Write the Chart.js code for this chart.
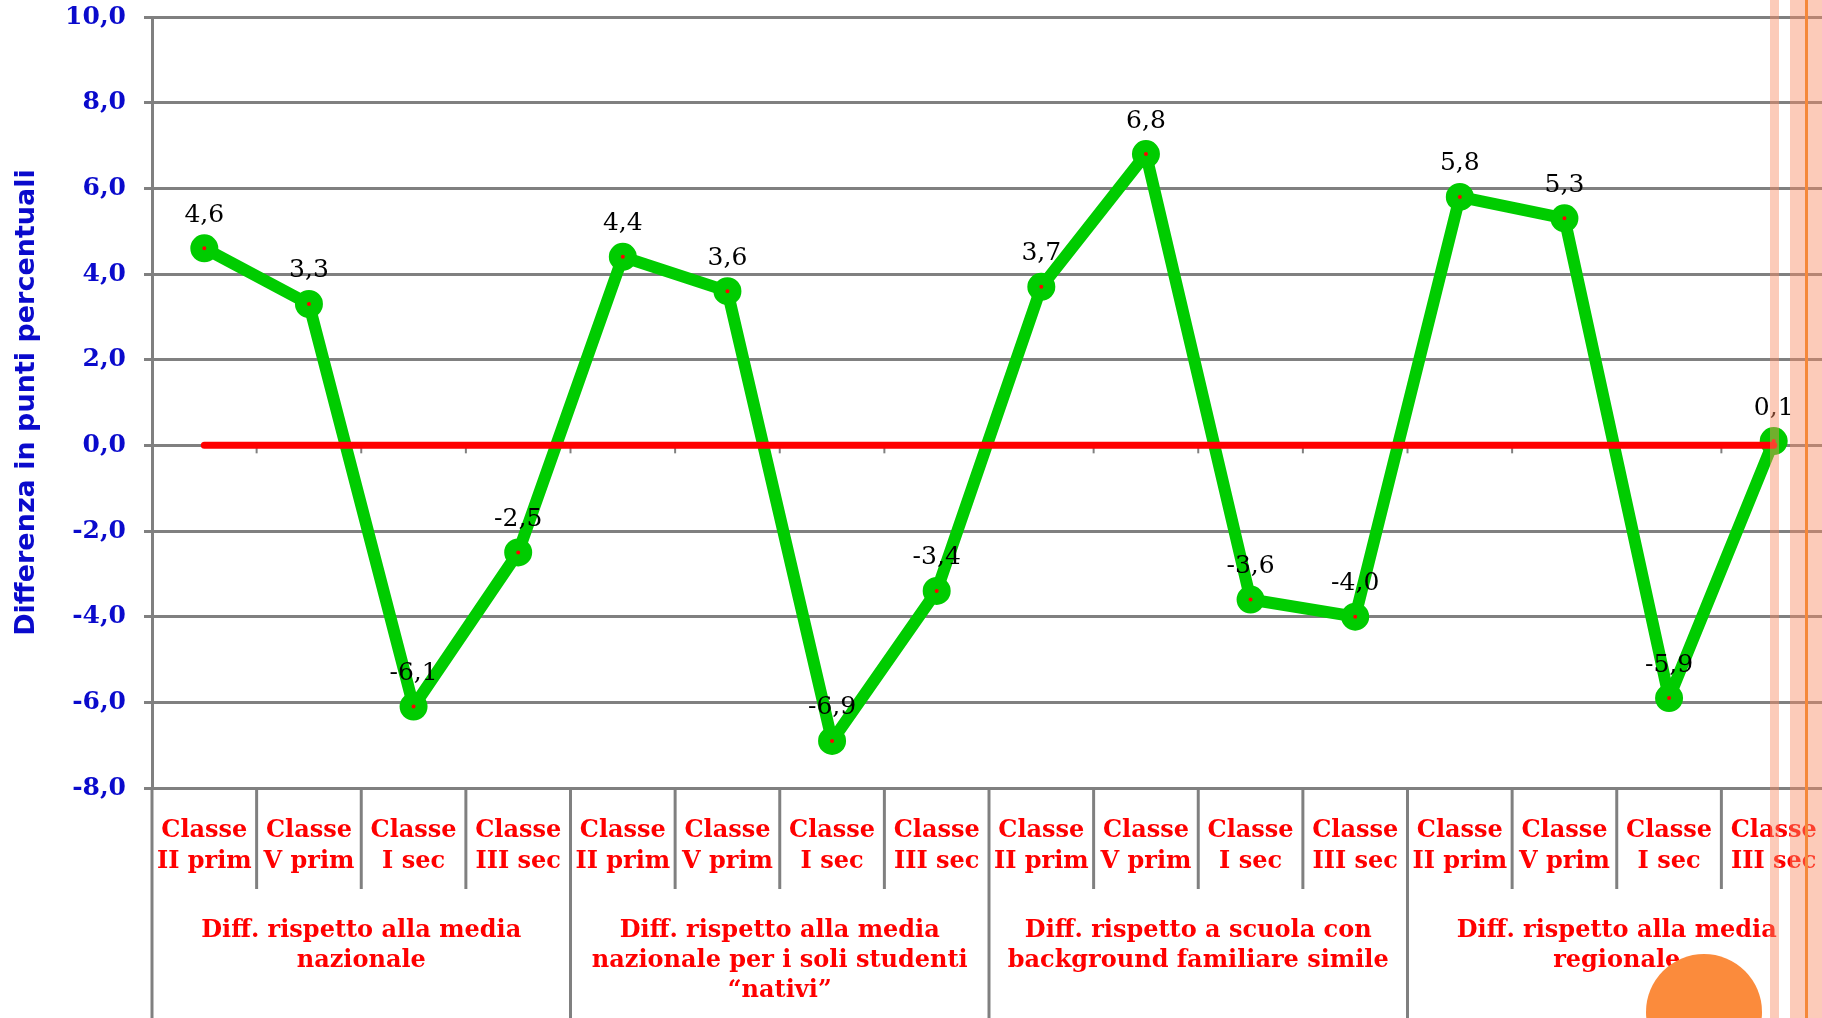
<!DOCTYPE html>
<html>
<head>
<meta charset="utf-8">
<script src="https://cdn.jsdelivr.net/npm/chart.js@4"></script>
<style>
html, body { margin: 0; padding: 0; background: #fff; overflow: hidden; }
#wrap { position: relative; width: 1826px; height: 1018px; }
.deco { position: absolute; top: 0; height: 1018px; pointer-events: none; }
</style>
</head>
<body>
<div id="wrap">
  <canvas id="chart" width="1826" height="1018"></canvas>
  <div class="deco" style="left:1770px;width:9px;background:rgba(248,140,100,0.45)"></div>
  <div class="deco" style="left:1790px;width:36px;background:rgba(248,140,100,0.45)"></div>
  <div class="deco" style="left:1805px;width:3px;background:#f5883a"></div>
  <div style="position:absolute;left:1646px;top:954px;width:116px;height:116px;border-radius:50%;background:#fb8b3c"></div>
</div>
<script>
// classi e gruppi (etichette asse x)
var classi = [['Classe', 'II prim'], ['Classe', 'V prim'], ['Classe', 'I sec'], ['Classe', 'III sec']];
var gruppi = [
  ['Diff. rispetto alla media', 'nazionale'],
  ['Diff. rispetto alla media', 'nazionale per i soli studenti', '\u201cnativi\u201d'],
  ['Diff. rispetto a scuola con', 'background familiare simile'],
  ['Diff. rispetto alla media', 'regionale']
];
var differenze = [4.6, 3.3, -6.1, -2.5, 4.4, 3.6, -6.9, -3.4, 3.7, 6.8, -3.6, -4.0, 5.8, 5.3, -5.9, 0.1];
var zero = [0, 0, 0, 0, 0, 0, 0, 0, 0, 0, 0, 0, 0, 0, 0, 0];
var yMin = -8, yMax = 10, yStep = 2;

var categories = [];
for (var g = 0; g < gruppi.length; g++) {
  for (var c = 0; c < classi.length; c++) {
    categories.push(classi[c]);
  }
}

function virgola(v) {
  return Number(v).toFixed(1).replace('.', ',');
}

var grigio = '#808080';
var blu = '#0a0acc';
var rosso = '#ff0000';

var extras = {
  id: 'extras',
  beforeDatasetsDraw: function(chart) {
    // tacche sulla linea dello zero
    var ctx = chart.ctx, x = chart.scales.x, y = chart.scales.y;
    var step = x.getPixelForValue(1) - x.getPixelForValue(0);
    var y0 = y.getPixelForValue(0);
    ctx.save();
    ctx.strokeStyle = grigio;
    ctx.lineWidth = 2;
    for (var k = 1; k < categories.length; k++) {
      var bx = x.getPixelForValue(k) - step / 2;
      ctx.beginPath();
      ctx.moveTo(bx, y0);
      ctx.lineTo(bx, y0 + 8);
      ctx.stroke();
    }
    ctx.restore();
  },
  afterDatasetsDraw: function(chart) {
    var ctx = chart.ctx;
    var meta = chart.getDatasetMeta(0);
    ctx.save();
    ctx.font = '25px "DejaVu Serif"';
    ctx.fillStyle = '#000';
    ctx.textAlign = 'center';
    ctx.textBaseline = 'middle';
    meta.data.forEach(function(pt, i) {
      ctx.fillText(virgola(differenze[i]), pt.x, pt.y - 33);
    });
    ctx.restore();
  },
  afterDraw: function(chart) {
    var ctx = chart.ctx, x = chart.scales.x;
    var step = x.getPixelForValue(1) - x.getPixelForValue(0);
    var start = x.getPixelForValue(0) - step / 2;
    var top = chart.chartArea.bottom;
    ctx.save();
    ctx.strokeStyle = grigio;
    ctx.lineWidth = 3;
    for (var k = 0; k <= categories.length; k++) {
      var bx = start + k * step;
      ctx.beginPath();
      ctx.moveTo(bx, top);
      ctx.lineTo(bx, k % classi.length == 0 ? chart.height : top + 101);
      ctx.stroke();
    }
    // etichette dei gruppi
    ctx.font = 'bold 24px "DejaVu Serif"';
    ctx.fillStyle = rosso;
    ctx.textAlign = 'center';
    ctx.textBaseline = 'middle';
    for (var g = 0; g < gruppi.length; g++) {
      var cx = (x.getPixelForValue(g * 4) + x.getPixelForValue(g * 4 + 3)) / 2;
      for (var j = 0; j < gruppi[g].length; j++) {
        ctx.fillText(gruppi[g][j], cx, top + 143 + j * 30);
      }
    }
    ctx.restore();
  }
};

new Chart(document.getElementById('chart'), {
  type: 'line',
  data: {
    labels: categories,
    datasets: [{
      label: 'Differenza',
      data: differenze,
      order: 2,
      borderColor: '#00cc00',
      borderWidth: 12,
      borderJoinStyle: 'round',
      pointRadius: 8,
      pointBorderWidth: 12,
      pointBorderColor: '#00cc00',
      pointBackgroundColor: rosso,
      tension: 0,
      clip: false
    }, {
      label: 'Zero',
      data: zero,
      order: 1,
      borderColor: rosso,
      borderWidth: 7,
      borderCapStyle: 'round',
      pointRadius: 0,
      tension: 0,
      clip: false
    }]
  },
  options: {
    responsive: false,
    animation: false,
    layout: { autoPadding: false, padding: { top: 17, right: 0, bottom: 0, left: 0 } },
    plugins: {
      legend: { display: false },
      tooltip: { enabled: false }
    },
    scales: {
      x: {
        offset: true,
        afterFit: function(s) {
          s.height = 230;
          s.paddingLeft = 0;
          s.paddingRight = 0;
        },
        grid: { display: false, drawTicks: false },
        border: { display: true, color: grigio, width: 3 },
        ticks: {
          color: rosso,
          padding: 27,
          maxRotation: 0,
          autoSkip: false,
          font: { family: 'DejaVu Serif', size: 24, weight: 'bold', lineHeight: 1.3 }
        }
      },
      y: {
        min: yMin,
        max: yMax,
        afterFit: function(s) {
          s.width = 152;
          s.paddingTop = 0;
          s.paddingBottom = 0;
        },
        grid: { color: grigio, lineWidth: 3, tickLength: 8 },
        border: { color: grigio, width: 3 },
        ticks: {
          stepSize: yStep,
          color: blu,
          padding: 18,
          font: { family: 'DejaVu Serif', size: 25, weight: 'bold' },
          callback: function(v) { return virgola(v); }
        },
        title: {
          display: true,
          text: 'Differenza in punti percentuali',
          color: blu,
          padding: { top: 11, bottom: 0 },
          font: { family: 'DejaVu Sans', size: 27, weight: 'bold' }
        }
      }
    }
  },
  plugins: [extras]
});
</script>
</body>
</html>
